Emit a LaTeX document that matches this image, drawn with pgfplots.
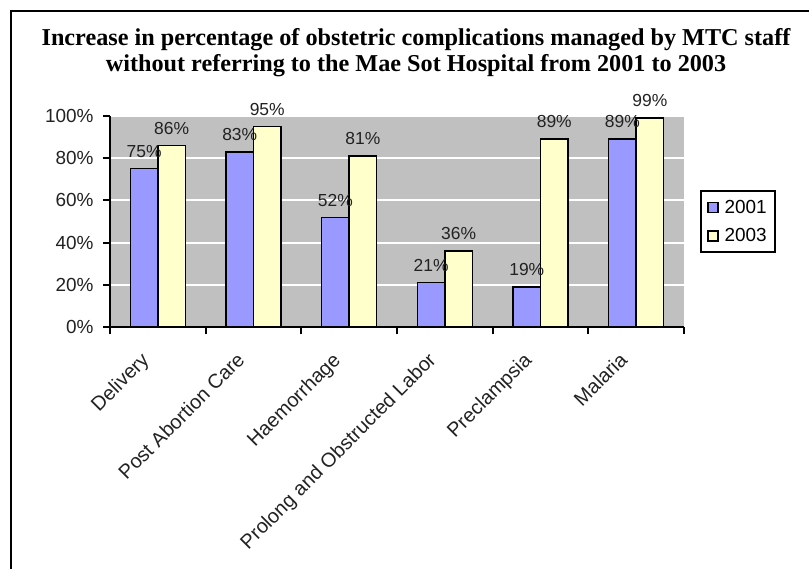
\documentclass[border=0pt]{standalone}
\usepackage{pgfplots}
\pgfplotsset{compat=1.18}
\usepackage{fontspec}
\setmainfont{Liberation Sans}
\newfontfamily\titlefont{Liberation Serif}
\definecolor{bluebar}{HTML}{9999FF}
\definecolor{yellowbar}{HTML}{FFFFCC}
\definecolor{plotgray}{HTML}{C0C0C0}
\definecolor{txt}{HTML}{222222}
\begin{document}
\begin{tikzpicture}
\useasboundingbox (0bp,0bp) rectangle (809bp,569bp);
% outer frame (cut at right and bottom edge)
\draw[line width=2bp] (11bp,0bp) -- (11bp,558bp) -- (809bp,558bp);
\node[font=\titlefont\bfseries\fontsize{24.3}{26}\selectfont, align=center] at (416bp,516bp)
  {Increase in percentage of obstetric complications managed by MTC staff\\
   without referring to the Mae Sot Hospital from 2001 to 2003};
\begin{axis}[
  at={(110bp,242bp)}, anchor=south west,
  scale only axis, width=574bp, height=211bp,
  ybar=0pt, bar width=27.5bp,
  xmin=-0.5, xmax=5.5, ymin=0, ymax=100,
  axis x line*=bottom, axis y line*=left,
  axis line style={line width=2bp, black},
  axis background/.style={fill=plotgray},
  ytick={0,20,...,100},
  yticklabel={\pgfmathprintnumber{\tick}\%},
  /pgf/number format/assume math mode=true,
  ymajorgrids, major grid style={white, line width=2bp},
  tick align=outside, major tick length=7bp,
  tick style={black, line width=2bp},
  xtick={0,...,5},
  x tick style={draw=none},
  xticklabels={Delivery, Post Abortion Care, Haemorrhage, Prolong and Obstructed Labor, Preclampsia, Malaria},
  x tick label style={xshift=-18bp, yshift=-14bp, rotate=45, anchor=north east, inner sep=2bp, font=\fontsize{20}{23}\selectfont, text=txt},
  y tick label style={font=\fontsize{19}{22}\selectfont, text=txt, xshift=-6bp},
  extra x ticks={-0.5,0.5,...,5.5},
  extra x tick labels={},
  extra x tick style={grid=none, x tick style={draw=black, line width=2bp}, major tick length=7bp},
  nodes near coords={\pgfmathprintnumber{\pgfplotspointmeta}\%},
  nodes near coords style={font=\fontsize{17.5}{20}\selectfont, text=txt, anchor=south, yshift=7bp},
  every axis plot/.append style={draw=black, line width=1.5bp},
  legend style={at={(1.028,0.649)}, anchor=north west, draw=black, line width=2bp,
    font=\fontsize{19}{22}\selectfont, row sep=10bp, inner xsep=6bp, inner ysep=7bp,
    cells={anchor=west}, /tikz/every odd column/.append style={column sep=4bp}},
  legend image code/.code={\draw[#1, line width=1.5bp] (0bp,-5bp) rectangle (10bp,5bp);},
  clip=false,
]
\addplot[fill=bluebar] coordinates {(0,75) (1,83) (2,52) (3,21) (4,19) (5,89)};
\addplot[fill=yellowbar] coordinates {(0,86) (1,95) (2,81) (3,36) (4,89) (5,99)};
\legend{2001, 2003}
\end{axis}
\end{tikzpicture}
\end{document}
